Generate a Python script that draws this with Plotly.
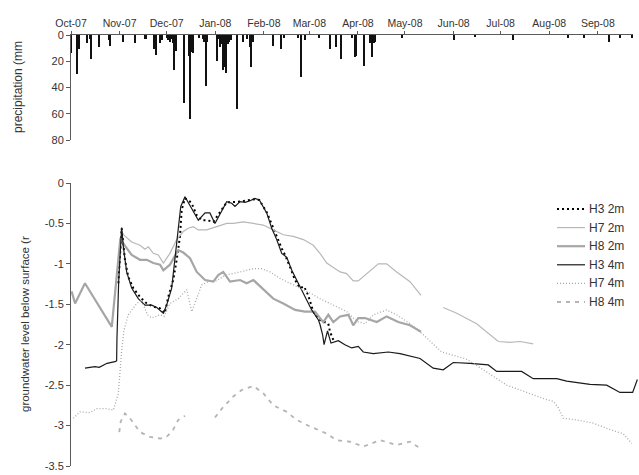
import pandas as pd
import plotly.graph_objects as go

# ---- data: days counted from 1 Oct 2007 ----
START = pd.Timestamp("2007-10-01")

rain_day = [0, 4, 5, 10, 12, 13, 18, 24, 25, 33, 41, 47, 48, 53, 54, 57, 58, 61, 62, 63,
            64, 65, 66, 67, 72, 75, 76, 77, 78, 82, 84, 85, 86, 87, 93, 94, 95, 96, 97, 98,
            99, 100, 101, 102, 106, 110, 112, 114, 115, 116, 129, 134, 136, 145, 147, 149,
            158, 165, 169, 172, 179, 181, 182, 187, 191, 192, 193, 194, 211, 244, 258, 282,
            317, 327, 343, 350, 358]
rain_mm = [14, 30, 11, 6, 3, 18, 9, 4, 8, 5, 6, 3, 3, 11, 15, 6, 4, 2, 4, 5,
           3, 6, 27, 12, 52, 16, 64, 13, 14, 2, 3, 5, 39, 5, 20, 3, 9, 7, 27, 24,
           29, 7, 5, 4, 56, 5, 3, 9, 24, 5, 8, 11, 2, 2, 32, 4,
           2, 11, 9, 18.5, 2, 16.5, 16, 23.5, 6, 17, 6, 5, 2, 4, 1.5, 4,
           2, 2.5, 5, 2, 2]

h3_2m_day = [30.2, 32.3, 34.4, 36.5, 39.7, 44, 48.3, 52.5, 56.8, 59.9, 62, 65.2, 67.4, 69.5,
             70.6, 72.7, 75.9, 77.6, 80.2, 83.4, 86.5, 90.8, 99.3, 107.8, 117.3, 120.1, 124.8,
             128, 131.2, 134.4, 136.5, 139.7, 142.9, 146, 148.6, 151.3, 154.5, 158.4, 164.1,
             165.2, 167.3]
h3_2m_lvl = [-1.24, -0.56, -0.95, -1.16, -1.30, -1.41, -1.49, -1.53, -1.55, -1.61, -1.41, -1.20,
             -0.95, -0.66, -0.33, -0.19, -0.23, -0.28, -0.40, -0.46, -0.46, -0.48, -0.24, -0.23,
             -0.20, -0.21, -0.36, -0.50, -0.66, -0.81, -0.89, -1.04, -1.20, -1.30, -1.28, -1.39,
             -1.59, -1.69, -1.74, -1.84, -1.94]

h7_2m_day = [32.3, 38.7, 44, 47.2, 49.3, 52.5, 55.7, 58.9, 63.1, 67.4, 71.6, 74.8, 78, 81.2,
             86.5, 92.9, 99.3, 103.5, 109.9, 116.3, 122.6, 129, 135.4, 141.8, 148.2, 154.5,
             158.8, 163.1, 167.3, 171.6, 175.8, 180, 183.2, 188.6, 196, 201.3, 207.7, 216.2,
             223.2, None, 237.4, 246, 258.7, 265.1, 272.5, 280, 286.4, 294.8]
h7_2m_lvl = [-0.62, -0.73, -0.77, -0.82, -0.79, -0.87, -0.89, -0.99, -0.87, -0.70, -0.60, -0.56,
             -0.54, -0.58, -0.58, -0.54, -0.50, -0.50, -0.48, -0.50, -0.52, -0.58, -0.64, -0.66,
             -0.70, -0.77, -0.87, -0.99, -1.05, -1.10, -1.12, -1.21, -1.21, -1.12, -1.00, -1.00,
             -1.10, -1.22, -1.39, None, -1.54, -1.61, -1.74, -1.84, -1.96, -1.97, -1.96, -1.99]

h8_2m_day = [0.4, 2.6, 8.9, 26, 31.5, 33.4, 38.7, 44, 48.3, 52.5, 56.8, 58.9, 63.1, 68.4, 71.6,
             75.9, 80.2, 85.5, 90.8, 93.9, 97.1, 101.4, 107.8, 112, 116.3, 122.6, 129, 135.4,
             142.9, 149.2, 155.6, 160.9, 164.1, 167.3, 171.6, 176.9, 180, 183.2, 187.5, 195,
             201.3, 208.7, 216.2, 223.2]
h8_2m_lvl = [-1.34, -1.49, -1.24, -1.78, -0.68, -0.75, -0.89, -0.95, -0.95, -0.99, -1.01, -1.08,
             -1.01, -0.83, -0.86, -0.93, -1.10, -1.20, -1.22, -1.14, -1.10, -1.22, -1.20, -1.24,
             -1.20, -1.32, -1.43, -1.49, -1.57, -1.59, -1.59, -1.72, -1.63, -1.72, -1.65, -1.63,
             -1.76, -1.67, -1.67, -1.72, -1.65, -1.72, -1.76, -1.84]

h3_4m_day = [8.9, 15.3, 18, 23, 28, 29.1, 29.3, 30.4, 32.3, 33.4, 35.5, 38.7, 42.9, 47.2, 51.5,
             54.7, 58.9, 61, 64.2, 67.8, 70, 72.7, 77, 81.2, 85.5, 88.6, 91.8, 99.3, 102.5,
             104.6, 107.8, 111, 114.2, 117.3, 120.1, 124.8, 128, 131.2, 134.4, 137.6, 140.8,
             143.9, 147.1, 150.3, 153.5, 157.7, 158.8, 160.5, 161.4, 163.6, 165.8, 170.5, 174.7,
             179, 183.2, 186.4, 192.8, 202.4, 209.8, 222.6, 231, 237.4, 243.8, 254.5, 266.1,
             271.5, 287.4, 294.8, 309.8, 316.1, 331, 341.6, 350.1, 358.2, 361.2]
h3_4m_lvl = [-2.29, -2.27, -2.28, -2.23, -2.21, -2.20, -1.93, -1.22, -0.55, -0.79, -1.10, -1.30,
             -1.43, -1.51, -1.51, -1.54, -1.61, -1.51, -1.30, -0.62, -0.29, -0.17, -0.31, -0.46,
             -0.37, -0.37, -0.50, -0.23, -0.25, -0.29, -0.23, -0.24, -0.22, -0.19, -0.21, -0.37,
             -0.56, -0.70, -0.87, -0.92, -1.08, -1.20, -1.32, -1.43, -1.57, -1.69, -1.75, -1.88,
             -2.00, -1.83, -1.98, -1.95, -2.00, -2.04, -2.02, -2.09, -2.11, -2.09, -2.11, -2.17,
             -2.29, -2.31, -2.22, -2.23, -2.25, -2.33, -2.33, -2.42, -2.42, -2.45, -2.49, -2.50,
             -2.59, -2.59, -2.43]

h7_4m_day = [1.5, 5.7, 12.1, 16.4, 22.8, 27, 30.2, 31.3, 32.3, 33.8, 36.5, 41.9, 45.1, 48.7,
             51.5, 56.8, 59.3, 63.1, 68.4, 73.8, 77, 83.4, 88.6, 92.9, 98.2, 107.8, 116.3, 121.6,
             126.9, 133.3, 139.7, 146, 152.4, 158.8, 167.3, 175.8, 182.2, 187.5, 192.8, 201.3,
             207.7, 216.2, 223.7, 230, 236.4, 243.8, 252.4, 256.6, 266.1, 277.9, 286.4, 294.8,
             303.4, 307.6, 310.8, 314, 322.5, 333.1, 343.8, 352.2, 357.6]
h7_4m_lvl = [-2.91, -2.83, -2.84, -2.79, -2.79, -2.81, -2.60, -2.31, -2.07, -1.82, -1.63, -1.49,
             -1.45, -1.63, -1.67, -1.63, -1.65, -1.49, -1.43, -1.32, -1.59, -1.26, -1.21, -1.21,
             -1.14, -1.10, -1.06, -1.06, -1.10, -1.18, -1.24, -1.30, -1.36, -1.43, -1.51, -1.59,
             -1.71, -1.74, -1.63, -1.57, -1.63, -1.74, -1.86, -1.98, -2.09, -2.13, -2.18, -2.23,
             -2.35, -2.50, -2.56, -2.62, -2.68, -2.70, -2.78, -2.91, -2.93, -2.97, -3.05, -3.10,
             -3.22]

h8_4m_day = [30.8, 31.7, 34.4, 37.6, 44, 50.4, 56.8, 61, 65.2, 68.4, 72.7, None, 91.8, 97.1,
             103.5, 108.9, 116.3, 122.6, 129, 137.6, 143.9, 152.4, 163.1, 169.4, 178, 186.4,
             197.1, 207.7, 216.2, 222.6]
h8_4m_lvl = [-3.08, -2.95, -2.85, -2.91, -3.08, -3.14, -3.16, -3.14, -3.05, -2.93, -2.88, None,
             -2.90, -2.77, -2.64, -2.56, -2.51, -2.60, -2.75, -2.83, -2.93, -3.01, -3.10, -3.18,
             -3.20, -3.26, -3.18, -3.24, -3.20, -3.28]

level_ticks = [0, -0.5, -1, -1.5, -2, -2.5, -3, -3.5]
level_tick_text = ["0", "-0.5", "-1", "-1.5", "-2", "-2.5", "-3", "-3.5"]
rain_ticks = [0, 20, 40, 60, 80]


def as_dates(days):
    return [None if d is None else START + pd.Timedelta(days=d) for d in days]


W, H = 639, 475
FONT = "Liberation Sans, Arial, sans-serif"
TXT = "#333333"
AX = "#5a5a5a"


def px_x(p):
    return p / W


def px_y(p):
    return 1 - p / H


fig = go.Figure()

fig.add_trace(go.Bar(
    x=as_dates(rain_day), y=rain_mm, xaxis="x", yaxis="y",
    width=86400000 * 0.75, marker=dict(color="#111111", line=dict(width=0)),
    showlegend=False,
))

series = [
    ("H3 2m", h3_2m_day, h3_2m_lvl, dict(color="#000000", width=2, dash="2px,3px")),
    ("H7 2m", h7_2m_day, h7_2m_lvl, dict(color="#b8b8b8", width=1.2)),
    ("H8 2m", h8_2m_day, h8_2m_lvl, dict(color="#a6a6a6", width=2.2)),
    ("H3 4m", h3_4m_day, h3_4m_lvl, dict(color="#1a1a1a", width=1.2)),
    ("H7 4m", h7_4m_day, h7_4m_lvl, dict(color="#a8a8a8", width=1.3, dash="1px,2px")),
    ("H8 4m", h8_4m_day, h8_4m_lvl, dict(color="#b4b4b4", width=1.8, dash="4px,5px")),
]
for name, d, v, ln in series:
    fig.add_trace(go.Scatter(
        x=as_dates(d), y=v, name=name, mode="lines", line=ln,
        xaxis="x2", yaxis="y2", connectgaps=False, showlegend=False,
    ))

# legend key drawn beside the lower panel
shapes, annotations = [], []
key_top, key_step = 209, 18.6
for i, (name, _, _, ln) in enumerate(series):
    yk = px_y(key_top + i * key_step)
    shapes.append(dict(type="line", xref="paper", yref="paper",
                       x0=px_x(557), x1=px_x(585), y0=yk, y1=yk,
                       line=dict(color=ln["color"], width=ln["width"],
                                 dash=ln.get("dash", "solid"))))
    annotations.append(dict(text=name, xref="paper", yref="paper", x=px_x(587), y=yk,
                            xanchor="left", yanchor="middle", showarrow=False,
                            font=dict(size=12, color=TXT)))

annotations += [
    dict(text="precipitation (mm", x=px_x(18), y=px_y(87), xref="paper", yref="paper",
         xanchor="center", yanchor="middle", textangle=-90, showarrow=False,
         font=dict(size=12, color=TXT)),
    dict(text="groundwater level below surface (r", x=px_x(25), y=px_y(324),
         xref="paper", yref="paper", xanchor="center", yanchor="middle",
         textangle=-90, showarrow=False, font=dict(size=11.5, color=TXT)),
]

day_px = 1.568
top_end = (633 - 71) / day_px
low_end = (638 - 71) / day_px

fig.update_layout(
    width=W, height=H,
    margin=dict(l=0, r=0, t=0, b=0, autoexpand=False),
    paper_bgcolor="white", plot_bgcolor="white",
    font=dict(family=FONT, size=11, color=TXT),
    bargap=0, showlegend=False,
    xaxis=dict(
        domain=[px_x(71), px_x(633)], anchor="y", side="top", type="date",
        range=[START, START + pd.Timedelta(days=top_end)],
        tick0="2007-10-01", dtick="M1", tickformat="%b-%y",
        ticks="outside", ticklen=3, tickcolor=AX, automargin=False,
        showline=True, linecolor=AX, linewidth=1, showgrid=False, zeroline=False,
        tickfont=dict(size=10.5, color=TXT),
    ),
    yaxis=dict(
        domain=[px_y(140), px_y(35)], anchor="x", range=[80, 0],
        tickvals=rain_ticks, ticks="outside", ticklen=4, tickcolor=AX, automargin=False,
        showline=True, linecolor=AX, linewidth=1, showgrid=False, zeroline=False,
        tickfont=dict(size=11, color=TXT),
    ),
    xaxis2=dict(
        domain=[px_x(71), px_x(638)], anchor="y2", type="date",
        range=[START, START + pd.Timedelta(days=low_end)],
        visible=False, automargin=False,
    ),
    yaxis2=dict(
        domain=[px_y(466), px_y(183)], anchor="x2", range=[-3.5, 0],
        tickvals=level_ticks, ticktext=level_tick_text, automargin=False,
        ticks="outside", ticklen=4, tickcolor=AX,
        showline=True, linecolor=AX, linewidth=1, showgrid=False, zeroline=False,
        tickfont=dict(size=11, color=TXT),
    ),
    shapes=shapes,
    annotations=annotations,
)

fig.write_html("out.html")
